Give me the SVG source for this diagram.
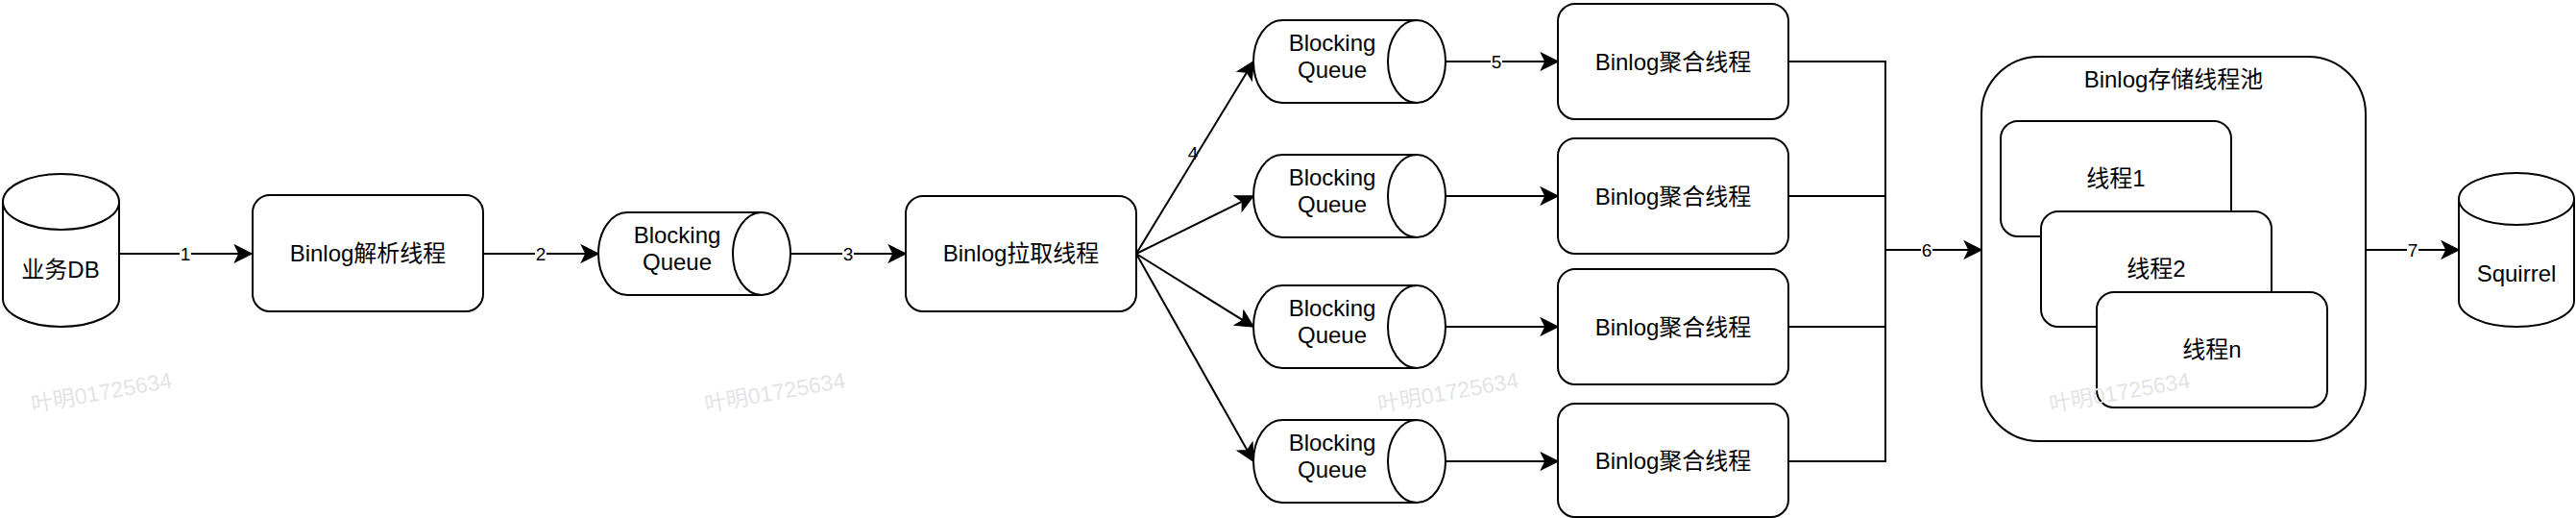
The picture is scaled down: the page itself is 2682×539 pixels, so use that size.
<svg xmlns="http://www.w3.org/2000/svg" width="2682" height="539" viewBox="0 0 2682 539">
<style>
.s{fill:#ffffff;stroke:#000000;stroke-width:2}
.ln{fill:none;stroke:#000000;stroke-width:2}
.t{font-family:"Liberation Sans","Noto Sans CJK SC",Arial,sans-serif;font-size:24px;fill:#000000;text-anchor:middle}
.el{font-family:"Liberation Sans",Arial,sans-serif;font-size:19px;fill:#000000;text-anchor:middle}
.bg{fill:#ffffff}
.wm{font-family:"Liberation Sans","Noto Sans CJK SC",Arial,sans-serif;font-size:23px;fill:#e4e4e4;text-anchor:middle}
</style>
<defs>
<marker id="arr" markerUnits="userSpaceOnUse" markerWidth="20" markerHeight="20" viewBox="-1 -1 19 19" refX="12" refY="8.5" orient="auto">
<path d="M0,0 L17,8.5 L0,17 L4.25,8.5 Z" fill="#000000" stroke="#000000" stroke-width="1"/>
</marker>
</defs>
<rect x="0" y="0" width="2682" height="539" fill="#ffffff"/>

<g id="connectors">
<line class="ln" x1="124" y1="264" x2="257" y2="264" marker-end="url(#arr)"/>
<line class="ln" x1="503" y1="264" x2="618" y2="264" marker-end="url(#arr)"/>
<line class="ln" x1="823" y1="264" x2="938" y2="264" marker-end="url(#arr)"/>
<line class="ln" x1="1183" y1="264" x2="1302.4" y2="68.3" marker-end="url(#arr)"/>
<line class="ln" x1="1183" y1="264" x2="1300.5" y2="206.2" marker-end="url(#arr)"/>
<line class="ln" x1="1183" y1="264" x2="1300.8" y2="337.4" marker-end="url(#arr)"/>
<line class="ln" x1="1183" y1="264" x2="1302.5" y2="475.6" marker-end="url(#arr)"/>
<line class="ln" x1="1505" y1="64" x2="1617" y2="64" marker-end="url(#arr)"/>
<line class="ln" x1="1505" y1="204" x2="1617" y2="204" marker-end="url(#arr)"/>
<line class="ln" x1="1505" y1="340" x2="1617" y2="340" marker-end="url(#arr)"/>
<line class="ln" x1="1505" y1="480" x2="1617" y2="480" marker-end="url(#arr)"/>
<path class="ln" d="M1862,64 H1963 V480 H1862 M1862,204 H1963 M1862,340 H1963"/>
<line class="ln" x1="1963" y1="260" x2="2058" y2="260" marker-end="url(#arr)"/>
<line class="ln" x1="2463" y1="260" x2="2555" y2="260" marker-end="url(#arr)"/>
<rect class="bg" x="187" y="254" width="12" height="20"/>
<text class="el" x="193" y="271">1</text>
<rect class="bg" x="557" y="254" width="12" height="20"/>
<text class="el" x="563" y="271">2</text>
<rect class="bg" x="877" y="254" width="12" height="20"/>
<text class="el" x="883" y="271">3</text>
<text class="el" x="1242" y="166">4</text>
<rect class="bg" x="1552" y="54" width="12" height="20"/>
<text class="el" x="1558" y="71">5</text>
<rect class="bg" x="2000" y="250" width="12" height="20"/>
<text class="el" x="2006" y="267">6</text>
<rect class="bg" x="2506" y="250" width="12" height="20"/>
<text class="el" x="2512" y="267">7</text>
</g>

<g id="db">
<path class="s" d="M3,210 a60.5,29 0 0 1 121,0 v101 a60.5,29 0 0 1 -121,0 Z"/>
<path class="ln" d="M3,210 a60.5,29 0 0 0 121,0"/>
<text class="t" x="63" y="289">业务DB</text>
</g>

<g id="parse">
<rect class="s" x="263" y="203" width="240" height="121" rx="18" ry="18"/>
<text class="t" x="383" y="272">Binlog解析线程</text>
</g>

<g id="queue0">
<path class="s" d="M653,221 h140 a30,43 0 0 1 0,86 h-140 a30,43 0 0 1 0,-86 Z"/>
<path class="ln" d="M793,221 a30,43 0 0 0 0,86"/>
<text class="t" x="705" y="253">Blocking</text>
<text class="t" x="705" y="281">Queue</text>
</g>

<g id="fetch">
<rect class="s" x="943" y="204" width="240" height="120" rx="18" ry="18"/>
<text class="t" x="1063" y="272">Binlog拉取线程</text>
</g>

<g id="queue1">
<path class="s" d="M1335,21 h140 a30,43 0 0 1 0,86 h-140 a30,43 0 0 1 0,-86 Z"/>
<path class="ln" d="M1475,21 a30,43 0 0 0 0,86"/>
<text class="t" x="1387" y="53">Blocking</text>
<text class="t" x="1387" y="81">Queue</text>
</g>
<g id="queue2">
<path class="s" d="M1335,161 h140 a30,43 0 0 1 0,86 h-140 a30,43 0 0 1 0,-86 Z"/>
<path class="ln" d="M1475,161 a30,43 0 0 0 0,86"/>
<text class="t" x="1387" y="193">Blocking</text>
<text class="t" x="1387" y="221">Queue</text>
</g>
<g id="queue3">
<path class="s" d="M1335,297 h140 a30,43 0 0 1 0,86 h-140 a30,43 0 0 1 0,-86 Z"/>
<path class="ln" d="M1475,297 a30,43 0 0 0 0,86"/>
<text class="t" x="1387" y="329">Blocking</text>
<text class="t" x="1387" y="357">Queue</text>
</g>
<g id="queue4">
<path class="s" d="M1335,437 h140 a30,43 0 0 1 0,86 h-140 a30,43 0 0 1 0,-86 Z"/>
<path class="ln" d="M1475,437 a30,43 0 0 0 0,86"/>
<text class="t" x="1387" y="469">Blocking</text>
<text class="t" x="1387" y="497">Queue</text>
</g>

<g id="agg1">
<rect class="s" x="1622" y="4" width="240" height="120" rx="18" ry="18"/>
<text class="t" x="1742" y="72.5">Binlog聚合线程</text>
</g>
<g id="agg2">
<rect class="s" x="1622" y="144" width="240" height="120" rx="18" ry="18"/>
<text class="t" x="1742" y="212.5">Binlog聚合线程</text>
</g>
<g id="agg3">
<rect class="s" x="1622" y="280" width="240" height="120" rx="18" ry="18"/>
<text class="t" x="1742" y="348.5">Binlog聚合线程</text>
</g>
<g id="agg4">
<rect class="s" x="1622" y="420" width="240" height="118" rx="18" ry="18"/>
<text class="t" x="1742" y="488">Binlog聚合线程</text>
</g>

<g id="pool">
<rect class="s" x="2063" y="59" width="400" height="400" rx="60" ry="60"/>
<text class="t" x="2263" y="91">Binlog存储线程池</text>
</g>
<g id="thread1">
<rect class="s" x="2083" y="126" width="240" height="120" rx="18" ry="18"/>
<text class="t" x="2203" y="194">线程1</text>
</g>
<g id="thread2">
<rect class="s" x="2125" y="220" width="240" height="120" rx="18" ry="18"/>
<text class="t" x="2245" y="288">线程2</text>
</g>
<g id="threadn">
<rect class="s" x="2183" y="304" width="240" height="120" rx="18" ry="18"/>
<text class="t" x="2303" y="372">线程n</text>
</g>

<g id="squirrel">
<path class="s" d="M2560,207 a60,27 0 0 1 120,0 v106 a60,27 0 0 1 -120,0 Z"/>
<path class="ln" d="M2560,207 a60,27 0 0 0 120,0"/>
<text class="t" x="2620" y="293">Squirrel</text>
</g>

<g id="watermarks">
<text class="wm" transform="translate(107,416) rotate(-10)">叶明01725634</text>
<text class="wm" transform="translate(808,416) rotate(-10)">叶明01725634</text>
<text class="wm" transform="translate(1509,416) rotate(-10)">叶明01725634</text>
<text class="wm" transform="translate(2208,416) rotate(-10)">叶明01725634</text>
</g>
</svg>
